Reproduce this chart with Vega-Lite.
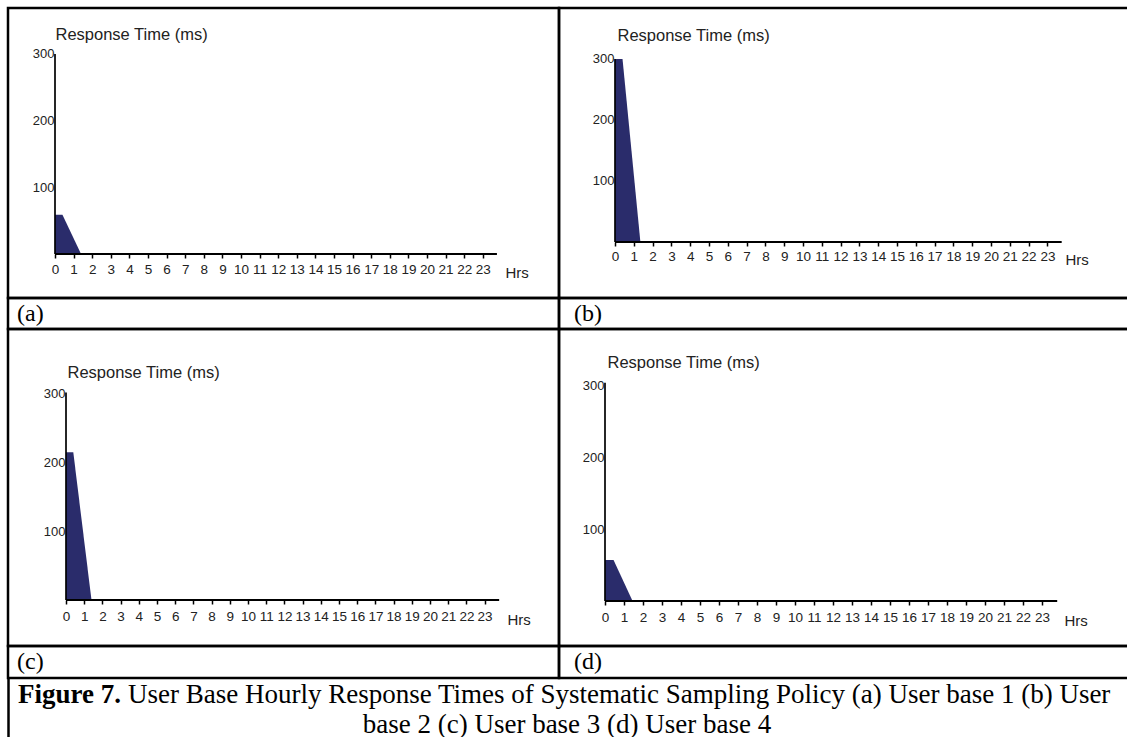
{
  "$schema": "https://vega.github.io/schema/vega-lite/v6.json",
  "padding": {"left": 6, "top": 6, "right": -7, "bottom": -9},
  "background": "white",
  "bounds": "flush",
  "spacing": 0,
  "columns": 2,
  "align": "each",
  "config": {
    "view": {"stroke": "#000", "strokeWidth": 2.5},
    "axis": {"grid": false, "domain": false, "labelOverlap": false, "labelBound": false, "labelFlush": false, "titleFontWeight": "normal", "labelFont": "Liberation Sans Narrow, Liberation Sans, sans-serif", "labelColor": "#222", "titleColor": "#222"}
  },
  "concat": [
    {
      "width": 551, "height": 290,
      "data": {"values": [{"hour": 0, "rt": 59}, {"hour": 0.4, "rt": 59}, {"hour": 1.4, "rt": 0}]},
      "resolve": {"axis": {"x": "independent", "y": "independent"}},
      "layer": [
        {"mark": {"type": "area", "color": "#2a2c6b"},
         "encoding": {
           "x": {"field": "hour", "type": "quantitative", "scale": {"domain": [-2.527, 27.097], "nice": false, "zero": false},
                 "axis": {"values": [0,1,2,3,4,5,6,7,8,9,10,11,12,13,14,15,16,17,18,19,20,21,22,23], "format": "d", "offset": -44, "tickSize": 4, "tickColor": "#000", "tickWidth": 1.5, "labelFontSize": 13.5, "labelPadding": 4, "title": "Hrs", "titleX": 497, "titleY": 18, "titleAlign": "left", "titleBaseline": "middle", "titleFont": "Liberation Sans Narrow, Liberation Sans, sans-serif", "titleFontSize": 15}},
           "y": {"field": "rt", "type": "quantitative", "scale": {"domain": [-66, 368.8], "nice": false, "zero": false},
                 "axis": {"values": [100, 200, 300], "format": "d", "offset": -47, "ticks": false, "tickSize": 0, "labelPadding": 1, "labelFontSize": 13, "title": "Response Time (ms)", "titleAngle": 0, "titleAlign": "left", "titleBaseline": "middle", "titleX": 0, "titleY": 26, "titleFont": "Liberation Sans, sans-serif", "titleFontSize": 16.5}},
           "y2": {"datum": 0}
         }},
        {"data": {"values": [{}]}, "mark": {"type": "rule", "color": "#000", "strokeWidth": 2},
         "encoding": {"x": {"datum": 0, "type": "quantitative", "scale": {"domain": [-2.527, 27.097], "nice": false, "zero": false}, "axis": null}, "x2": {"datum": 23.76}, "y": {"datum": 0, "type": "quantitative", "scale": {"domain": [-66, 368.8], "nice": false, "zero": false}, "axis": null}}},
        {"data": {"values": [{}]}, "mark": {"type": "rule", "color": "#000", "strokeWidth": 1.7},
         "encoding": {"x": {"datum": 0, "type": "quantitative", "scale": {"domain": [-2.527, 27.097], "nice": false, "zero": false}, "axis": null}, "y": {"datum": 0, "type": "quantitative", "scale": {"domain": [-66, 368.8], "nice": false, "zero": false}, "axis": null}, "y2": {"datum": 300}}}
      ]
    },
    {
      "width": 577, "height": 290,
      "data": {"values": [{"hour": 0, "rt": 300}, {"hour": 0.4, "rt": 300}, {"hour": 1.35, "rt": 0}]},
      "resolve": {"axis": {"x": "independent", "y": "independent"}},
      "layer": [
        {"mark": {"type": "area", "color": "#2a2c6b"},
         "encoding": {
           "x": {"field": "hour", "type": "quantitative", "scale": {"domain": [-2.979, 27.713], "nice": false, "zero": false},
                 "axis": {"values": [0,1,2,3,4,5,6,7,8,9,10,11,12,13,14,15,16,17,18,19,20,21,22,23], "format": "d", "offset": -56, "tickSize": 4, "tickColor": "#000", "tickWidth": 1.5, "labelFontSize": 13.5, "labelPadding": 3, "title": "Hrs", "titleX": 506, "titleY": 17, "titleAlign": "left", "titleBaseline": "middle", "titleFont": "Liberation Sans Narrow, Liberation Sans, sans-serif", "titleFontSize": 15}},
           "y": {"field": "rt", "type": "quantitative", "scale": {"domain": [-91.8, 383.6], "nice": false, "zero": false},
                 "axis": {"values": [100, 200, 300], "format": "d", "offset": -56, "ticks": false, "tickSize": 0, "labelPadding": 1, "labelFontSize": 13, "title": "Response Time (ms)", "titleAngle": 0, "titleAlign": "left", "titleBaseline": "middle", "titleX": 2, "titleY": 27, "titleFont": "Liberation Sans, sans-serif", "titleFontSize": 16.5}},
           "y2": {"datum": 0}
         }},
        {"data": {"values": [{}]}, "mark": {"type": "rule", "color": "#000", "strokeWidth": 2},
         "encoding": {"x": {"datum": 0, "type": "quantitative", "scale": {"domain": [-2.979, 27.713], "nice": false, "zero": false}, "axis": null}, "x2": {"datum": 23.76}, "y": {"datum": 0, "type": "quantitative", "scale": {"domain": [-91.8, 383.6], "nice": false, "zero": false}, "axis": null}}},
        {"data": {"values": [{}]}, "mark": {"type": "rule", "color": "#000", "strokeWidth": 1.7},
         "encoding": {"x": {"datum": 0, "type": "quantitative", "scale": {"domain": [-2.979, 27.713], "nice": false, "zero": false}, "axis": null}, "y": {"datum": 0, "type": "quantitative", "scale": {"domain": [-91.8, 383.6], "nice": false, "zero": false}, "axis": null}, "y2": {"datum": 300}}}
      ]
    },
    {
      "width": 551, "height": 31,
      "data": {"values": [{"label": "(a)"}]},
      "mark": {"type": "text", "align": "left", "baseline": "middle", "font": "Liberation Serif, serif", "fontSize": 24, "color": "#000"},
      "encoding": {"text": {"field": "label"}, "x": {"value": 9}, "y": {"value": 16}}
    },
    {
      "width": 577, "height": 31,
      "data": {"values": [{"label": "(b)"}]},
      "mark": {"type": "text", "align": "left", "baseline": "middle", "font": "Liberation Serif, serif", "fontSize": 24, "color": "#000"},
      "encoding": {"text": {"field": "label"}, "x": {"value": 15}, "y": {"value": 16}}
    },
    {
      "width": 551, "height": 317,
      "data": {"values": [{"hour": 0, "rt": 215}, {"hour": 0.4, "rt": 215}, {"hour": 1.4, "rt": 0}]},
      "resolve": {"axis": {"x": "independent", "y": "independent"}},
      "layer": [
        {"mark": {"type": "area", "color": "#2a2c6b"},
         "encoding": {
           "x": {"field": "hour", "type": "quantitative", "scale": {"domain": [-3.187, 27.088], "nice": false, "zero": false},
                 "axis": {"values": [0,1,2,3,4,5,6,7,8,9,10,11,12,13,14,15,16,17,18,19,20,21,22,23], "format": "d", "offset": -46, "tickSize": 4, "tickColor": "#000", "tickWidth": 1.5, "labelFontSize": 13.5, "labelPadding": 5, "title": "Hrs", "titleX": 499, "titleY": 19, "titleAlign": "left", "titleBaseline": "middle", "titleFont": "Liberation Sans Narrow, Liberation Sans, sans-serif", "titleFontSize": 15}},
           "y": {"field": "rt", "type": "quantitative", "scale": {"domain": [-67, 394.5], "nice": false, "zero": false},
                 "axis": {"values": [100, 200, 300], "format": "d", "offset": -58, "ticks": false, "tickSize": 0, "labelPadding": 1, "labelFontSize": 13, "title": "Response Time (ms)", "titleAngle": 0, "titleAlign": "left", "titleBaseline": "middle", "titleX": 1, "titleY": 43, "titleFont": "Liberation Sans, sans-serif", "titleFontSize": 16.5}},
           "y2": {"datum": 0}
         }},
        {"data": {"values": [{}]}, "mark": {"type": "rule", "color": "#000", "strokeWidth": 2},
         "encoding": {"x": {"datum": 0, "type": "quantitative", "scale": {"domain": [-3.187, 27.088], "nice": false, "zero": false}, "axis": null}, "x2": {"datum": 23.8}, "y": {"datum": 0, "type": "quantitative", "scale": {"domain": [-67, 394.5], "nice": false, "zero": false}, "axis": null}}},
        {"data": {"values": [{}]}, "mark": {"type": "rule", "color": "#000", "strokeWidth": 1.7},
         "encoding": {"x": {"datum": 0, "type": "quantitative", "scale": {"domain": [-3.187, 27.088], "nice": false, "zero": false}, "axis": null}, "y": {"datum": 0, "type": "quantitative", "scale": {"domain": [-67, 394.5], "nice": false, "zero": false}, "axis": null}, "y2": {"datum": 302}}}
      ]
    },
    {
      "width": 577, "height": 317,
      "data": {"values": [{"hour": 0, "rt": 57}, {"hour": 0.45, "rt": 57}, {"hour": 1.45, "rt": 0}]},
      "resolve": {"axis": {"x": "independent", "y": "independent"}},
      "layer": [
        {"mark": {"type": "area", "color": "#2a2c6b"},
         "encoding": {
           "x": {"field": "hour", "type": "quantitative", "scale": {"domain": [-2.421, 27.947], "nice": false, "zero": false},
                 "axis": {"values": [0,1,2,3,4,5,6,7,8,9,10,11,12,13,14,15,16,17,18,19,20,21,22,23], "format": "d", "offset": -45, "tickSize": 4, "tickColor": "#000", "tickWidth": 1.5, "labelFontSize": 13.5, "labelPadding": 5, "title": "Hrs", "titleX": 505, "titleY": 19, "titleAlign": "left", "titleBaseline": "middle", "titleFont": "Liberation Sans Narrow, Liberation Sans, sans-serif", "titleFontSize": 15}},
           "y": {"field": "rt", "type": "quantitative", "scale": {"domain": [-62.5, 377.8], "nice": false, "zero": false},
                 "axis": {"values": [100, 200, 300], "format": "d", "offset": -46, "ticks": false, "tickSize": 0, "labelPadding": 1, "labelFontSize": 13, "title": "Response Time (ms)", "titleAngle": 0, "titleAlign": "left", "titleBaseline": "middle", "titleX": 2, "titleY": 33, "titleFont": "Liberation Sans, sans-serif", "titleFontSize": 16.5}},
           "y2": {"datum": 0}
         }},
        {"data": {"values": [{}]}, "mark": {"type": "rule", "color": "#000", "strokeWidth": 2},
         "encoding": {"x": {"datum": 0, "type": "quantitative", "scale": {"domain": [-2.421, 27.947], "nice": false, "zero": false}, "axis": null}, "x2": {"datum": 23.8}, "y": {"datum": 0, "type": "quantitative", "scale": {"domain": [-62.5, 377.8], "nice": false, "zero": false}, "axis": null}}},
        {"data": {"values": [{}]}, "mark": {"type": "rule", "color": "#000", "strokeWidth": 1.7},
         "encoding": {"x": {"datum": 0, "type": "quantitative", "scale": {"domain": [-2.421, 27.947], "nice": false, "zero": false}, "axis": null}, "y": {"datum": 0, "type": "quantitative", "scale": {"domain": [-62.5, 377.8], "nice": false, "zero": false}, "axis": null}, "y2": {"datum": 303}}}
      ]
    },
    {
      "width": 551, "height": 32,
      "data": {"values": [{"label": "(c)"}]},
      "mark": {"type": "text", "align": "left", "baseline": "middle", "font": "Liberation Serif, serif", "fontSize": 24, "color": "#000"},
      "encoding": {"text": {"field": "label"}, "x": {"value": 9}, "y": {"value": 16}}
    },
    {
      "width": 577, "height": 32,
      "data": {"values": [{"label": "(d)"}]},
      "mark": {"type": "text", "align": "left", "baseline": "middle", "font": "Liberation Serif, serif", "fontSize": 24, "color": "#000"},
      "encoding": {"text": {"field": "label"}, "x": {"value": 15}, "y": {"value": 16}}
    },
    {
      "width": 551, "height": 70,
      "view": {"stroke": null},
      "resolve": {"axis": {"y": "independent"}},
      "layer": [
        {"data": {"values": [{"line": 1, "t": "Figure 7."}]},
         "mark": {"type": "text", "align": "left", "baseline": "middle", "font": "Liberation Serif, serif", "fontSize": 27, "fontWeight": "bold", "color": "#000"},
         "encoding": {"text": {"field": "t"}, "x": {"value": 10},
                      "y": {"field": "line", "type": "quantitative", "scale": {"domain": [0.433, 2.767], "reverse": true, "nice": false, "zero": false},
                            "axis": {"domain": true, "domainColor": "#000", "domainWidth": 2.5, "ticks": false, "labels": false, "title": null}}}},
        {"data": {"values": [{"line": 1, "t": "User Base Hourly Response Times of Systematic Sampling Policy (a) User base 1 (b) User"}]},
         "mark": {"type": "text", "align": "left", "baseline": "middle", "font": "Liberation Serif, serif", "fontSize": 27, "color": "#000"},
         "encoding": {"text": {"field": "t"}, "x": {"value": 120},
                      "y": {"field": "line", "type": "quantitative", "scale": {"domain": [0.433, 2.767], "reverse": true, "nice": false, "zero": false}, "axis": null}}},
        {"data": {"values": [{"line": 2, "t": "base 2 (c) User base 3 (d) User base 4"}]},
         "mark": {"type": "text", "align": "center", "baseline": "middle", "font": "Liberation Serif, serif", "fontSize": 27, "color": "#000"},
         "encoding": {"text": {"field": "t"}, "x": {"value": 559},
                      "y": {"field": "line", "type": "quantitative", "scale": {"domain": [0.433, 2.767], "reverse": true, "nice": false, "zero": false}, "axis": null}}}
      ]
    }
  ]
}
